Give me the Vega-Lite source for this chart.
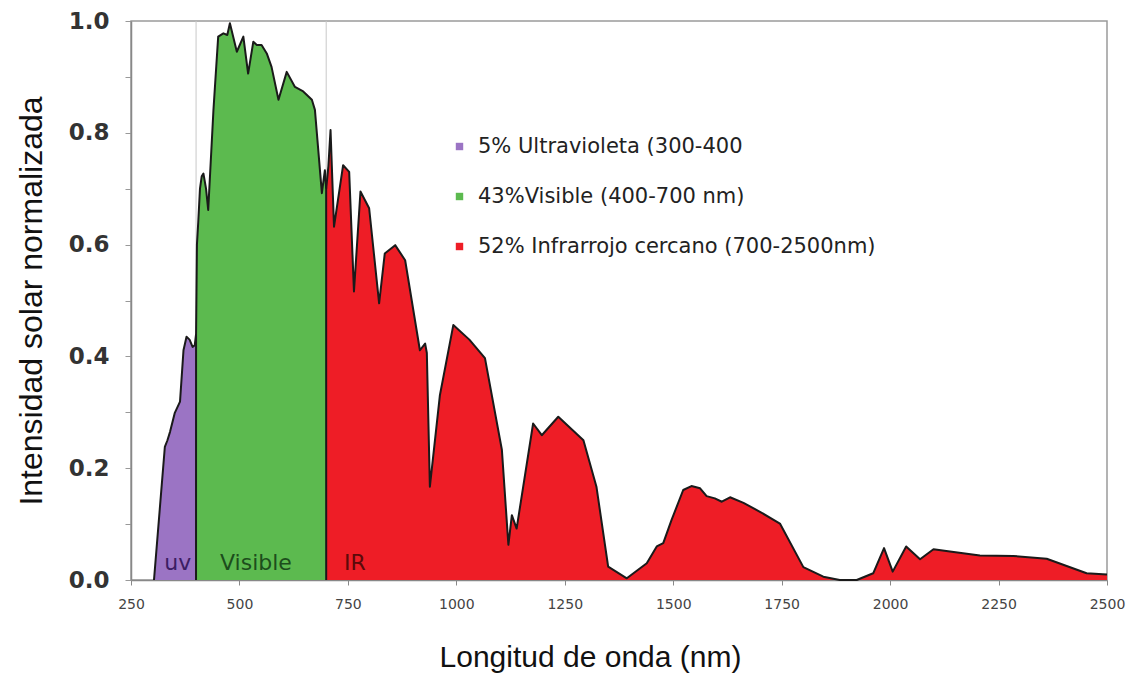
{
  "$schema": "https://vega.github.io/schema/vega-lite/v6.json",
  "width": 976,
  "height": 559,
  "autosize": {"type": "none"},
  "padding": {"left": 131, "top": 21, "right": 34, "bottom": 111},
  "background": "white",
  "config": {
    "view": {"stroke": "#9a9a9a", "strokeWidth": 1.5},
    "font": "DejaVu Sans"
  },
  "datasets": {
    "spectrum": [
      {"nm": 303, "v": 0, "banda": "uv"},
      {"nm": 328, "v": 0.238, "banda": "uv"},
      {"nm": 334, "v": 0.25, "banda": "uv"},
      {"nm": 340, "v": 0.265, "banda": "uv"},
      {"nm": 351, "v": 0.299, "banda": "uv"},
      {"nm": 363, "v": 0.319, "banda": "uv"},
      {"nm": 371, "v": 0.411, "banda": "uv"},
      {"nm": 378, "v": 0.435, "banda": "uv"},
      {"nm": 385, "v": 0.43, "banda": "uv"},
      {"nm": 392, "v": 0.417, "banda": "uv"},
      {"nm": 397, "v": 0.42, "banda": "uv"},
      {"nm": 400, "v": 0.44, "banda": "uv"},
      {"nm": 399.9, "v": 0, "banda": "vis"},
      {"nm": 400, "v": 0.44, "banda": "vis"},
      {"nm": 402, "v": 0.6, "banda": "vis"},
      {"nm": 405, "v": 0.64, "banda": "vis"},
      {"nm": 409, "v": 0.7, "banda": "vis"},
      {"nm": 413, "v": 0.722, "banda": "vis"},
      {"nm": 417, "v": 0.727, "banda": "vis"},
      {"nm": 423, "v": 0.7, "banda": "vis"},
      {"nm": 428, "v": 0.662, "banda": "vis"},
      {"nm": 440, "v": 0.84, "banda": "vis"},
      {"nm": 451, "v": 0.972, "banda": "vis"},
      {"nm": 463, "v": 0.978, "banda": "vis"},
      {"nm": 472, "v": 0.975, "banda": "vis"},
      {"nm": 478, "v": 0.996, "banda": "vis"},
      {"nm": 494, "v": 0.945, "banda": "vis"},
      {"nm": 509, "v": 0.972, "banda": "vis"},
      {"nm": 520, "v": 0.906, "banda": "vis"},
      {"nm": 532, "v": 0.963, "banda": "vis"},
      {"nm": 540, "v": 0.957, "banda": "vis"},
      {"nm": 551, "v": 0.957, "banda": "vis"},
      {"nm": 563, "v": 0.942, "banda": "vis"},
      {"nm": 574, "v": 0.918, "banda": "vis"},
      {"nm": 590, "v": 0.859, "banda": "vis"},
      {"nm": 609, "v": 0.909, "banda": "vis"},
      {"nm": 628, "v": 0.882, "banda": "vis"},
      {"nm": 647, "v": 0.874, "banda": "vis"},
      {"nm": 667, "v": 0.859, "banda": "vis"},
      {"nm": 674, "v": 0.841, "banda": "vis"},
      {"nm": 690, "v": 0.692, "banda": "vis"},
      {"nm": 697, "v": 0.733, "banda": "vis"},
      {"nm": 699.9, "v": 0.7, "banda": "vis"},
      {"nm": 700, "v": 0, "banda": "vis"},
      {"nm": 700, "v": 0.7, "banda": "ir"},
      {"nm": 705, "v": 0.74, "banda": "ir"},
      {"nm": 710, "v": 0.805, "banda": "ir"},
      {"nm": 718, "v": 0.632, "banda": "ir"},
      {"nm": 739, "v": 0.742, "banda": "ir"},
      {"nm": 753, "v": 0.73, "banda": "ir"},
      {"nm": 764, "v": 0.516, "banda": "ir"},
      {"nm": 779, "v": 0.695, "banda": "ir"},
      {"nm": 799, "v": 0.665, "banda": "ir"},
      {"nm": 822, "v": 0.495, "banda": "ir"},
      {"nm": 835, "v": 0.584, "banda": "ir"},
      {"nm": 859, "v": 0.599, "banda": "ir"},
      {"nm": 882, "v": 0.572, "banda": "ir"},
      {"nm": 916, "v": 0.411, "banda": "ir"},
      {"nm": 928, "v": 0.423, "banda": "ir"},
      {"nm": 932, "v": 0.406, "banda": "ir"},
      {"nm": 939, "v": 0.167, "banda": "ir"},
      {"nm": 962, "v": 0.33, "banda": "ir"},
      {"nm": 993, "v": 0.456, "banda": "ir"},
      {"nm": 1030, "v": 0.43, "banda": "ir"},
      {"nm": 1066, "v": 0.397, "banda": "ir"},
      {"nm": 1105, "v": 0.233, "banda": "ir"},
      {"nm": 1120, "v": 0.063, "banda": "ir"},
      {"nm": 1128, "v": 0.116, "banda": "ir"},
      {"nm": 1139, "v": 0.092, "banda": "ir"},
      {"nm": 1177, "v": 0.28, "banda": "ir"},
      {"nm": 1197, "v": 0.259, "banda": "ir"},
      {"nm": 1235, "v": 0.292, "banda": "ir"},
      {"nm": 1293, "v": 0.25, "banda": "ir"},
      {"nm": 1323, "v": 0.167, "banda": "ir"},
      {"nm": 1350, "v": 0.024, "banda": "ir"},
      {"nm": 1393, "v": 0.003, "banda": "ir"},
      {"nm": 1439, "v": 0.03, "banda": "ir"},
      {"nm": 1462, "v": 0.06, "banda": "ir"},
      {"nm": 1477, "v": 0.066, "banda": "ir"},
      {"nm": 1496, "v": 0.107, "banda": "ir"},
      {"nm": 1523, "v": 0.161, "banda": "ir"},
      {"nm": 1542, "v": 0.168, "banda": "ir"},
      {"nm": 1562, "v": 0.164, "banda": "ir"},
      {"nm": 1577, "v": 0.15, "banda": "ir"},
      {"nm": 1596, "v": 0.146, "banda": "ir"},
      {"nm": 1612, "v": 0.14, "banda": "ir"},
      {"nm": 1631, "v": 0.148, "banda": "ir"},
      {"nm": 1662, "v": 0.138, "banda": "ir"},
      {"nm": 1700, "v": 0.122, "banda": "ir"},
      {"nm": 1746, "v": 0.101, "banda": "ir"},
      {"nm": 1800, "v": 0.023, "banda": "ir"},
      {"nm": 1846, "v": 0.006, "banda": "ir"},
      {"nm": 1884, "v": 0, "banda": "ir"},
      {"nm": 1923, "v": 0, "banda": "ir"},
      {"nm": 1961, "v": 0.012, "banda": "ir"},
      {"nm": 1986, "v": 0.057, "banda": "ir"},
      {"nm": 2006, "v": 0.015, "banda": "ir"},
      {"nm": 2037, "v": 0.06, "banda": "ir"},
      {"nm": 2069, "v": 0.037, "banda": "ir"},
      {"nm": 2100, "v": 0.055, "banda": "ir"},
      {"nm": 2138, "v": 0.051, "banda": "ir"},
      {"nm": 2207, "v": 0.044, "banda": "ir"},
      {"nm": 2284, "v": 0.043, "banda": "ir"},
      {"nm": 2361, "v": 0.038, "banda": "ir"},
      {"nm": 2453, "v": 0.012, "banda": "ir"},
      {"nm": 2500, "v": 0.01, "banda": "ir"}
    ],
    "bounds": [{"nm": 400}, {"nm": 700}],
    "labels": [
      {"nm": 358, "v": 0.03, "t": "uv"},
      {"nm": 538, "v": 0.03, "t": "Visible"},
      {"nm": 766, "v": 0.03, "t": "IR"}
    ]
  },
  "encoding": {
    "x": {
      "field": "nm", "type": "quantitative",
      "scale": {"domain": [250, 2500], "nice": false, "zero": false},
      "axis": {
        "values": [250, 500, 750, 1000, 1250, 1500, 1750, 2000, 2250, 2500],
        "grid": false, "labelFlush": false, "labelOverlap": false, "labelBound": false,
        "title": "Longitud de onda (nm)",
        "titleFont": "Liberation Sans", "titleFontSize": 30, "titleFontWeight": "normal",
        "titleColor": "#111", "titlePadding": 31, "titleX": 459,
        "labelFont": "DejaVu Sans", "labelFontSize": 14, "labelColor": "#444",
        "labelPadding": 12, "tickSize": 5, "tickColor": "#888",
        "domainColor": "#888", "domainWidth": 1.5, "format": "d"
      }
    },
    "y": {
      "field": "v", "type": "quantitative",
      "scale": {"domain": [0, 1], "nice": false},
      "axis": {
        "values": [0, 0.1, 0.2, 0.3, 0.4, 0.5, 0.6, 0.7, 0.8, 0.9, 1.0],
        "labelExpr": "(round(datum.value * 10) % 2 == 0) ? format(datum.value, '.1f') : ''",
        "grid": false, "labelFlush": false,
        "title": "Intensidad solar normalizada",
        "titleFont": "Liberation Sans", "titleFontSize": 32, "titleFontWeight": "normal",
        "titleColor": "#111", "titlePadding": 20,
        "labelFont": "DejaVu Sans", "labelFontWeight": "bold", "labelFontSize": 23,
        "labelColor": "#333", "labelPadding": 16, "tickSize": 6, "tickColor": "#999",
        "domainColor": "#888", "domainWidth": 1.5
      }
    }
  },
  "layer": [
    {
      "data": {"name": "bounds"},
      "mark": {"type": "rule", "color": "#c8c8c8", "strokeWidth": 1},
      "encoding": {"y": null}
    },
    {
      "data": {"name": "spectrum"},
      "mark": {"type": "area", "opacity": 1},
      "encoding": {
        "y": {"field": "v", "type": "quantitative", "stack": null},
        "color": {
          "field": "banda", "type": "nominal",
          "scale": {"domain": ["uv", "vis", "ir"], "range": ["#9b74c4", "#5cba4f", "#ee1d26"]},
          "legend": {
            "orient": "none", "legendX": 318, "legendY": 115,
            "title": null, "symbolType": "square", "symbolSize": 55,
            "symbolStrokeWidth": 0, "symbolOpacity": 1,
            "labelFont": "DejaVu Sans", "labelFontSize": 21, "labelColor": "#222",
            "labelOffset": 8, "rowPadding": 28, "labelLimit": 700,
            "labelExpr": "datum.label == 'uv' ? '5% Ultravioleta (300-400' : datum.label == 'vis' ? '43%Visible (400-700 nm)' : '52% Infrarrojo cercano (700-2500nm)'"
          }
        }
      }
    },
    {
      "data": {"name": "spectrum"},
      "mark": {"type": "line", "color": "#1a1a1a", "strokeWidth": 2, "strokeJoin": "round"},
      "encoding": {"detail": {"field": "banda", "type": "nominal"}}
    },
    {
      "data": {"name": "labels"},
      "mark": {"type": "text", "fontSize": 22, "font": "DejaVu Sans", "align": "center", "baseline": "middle"},
      "encoding": {
        "text": {"field": "t"},
        "color": {
          "field": "t", "type": "nominal",
          "scale": {"domain": ["uv", "Visible", "IR"], "range": ["#3b1d63", "#1c4d1c", "#5c0a0a"]},
          "legend": null
        }
      }
    }
  ],
  "resolve": {"scale": {"color": "independent"}}
}
